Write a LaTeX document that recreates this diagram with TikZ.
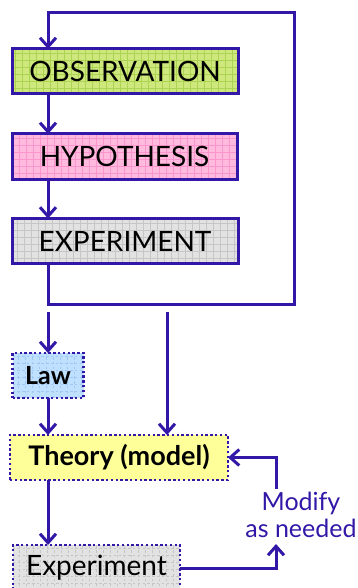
\documentclass[tikz,border=0pt]{standalone}
\usepackage{fontspec}
\setmainfont{Lato}
\usetikzlibrary{arrows.meta}
\definecolor{MethodInk}{RGB}{51,24,168}
\definecolor{ObsFill}{RGB}{206,232,125}
\definecolor{ObsGrid}{RGB}{172,212,82}
\definecolor{HypFill}{RGB}{255,186,222}
\definecolor{HypGrid}{RGB}{250,150,205}
\definecolor{ExpFill}{RGB}{226,226,226}
\definecolor{ExpGrid}{RGB}{198,198,198}
\definecolor{LawFill}{RGB}{192,224,255}
\definecolor{LawGrid}{RGB}{160,200,242}
\definecolor{TheoryFill}{RGB}{255,255,153}
\tikzset{
    method/diagram/.style={
        x=1pt, y=-1pt,
        line join=miter,
        every node/.style={inner sep=0pt, outer sep=0pt}
    },
    method/box/.style={
        draw=MethodInk, line width=3pt, text=black,
        minimum height=45pt,
        font=\fontsize{28}{30}\selectfont
    },
    method/loose/.style={
        method/box, line width=2.6pt, dash pattern=on 2.4pt off 2.4pt
    },
    method/grid/.style={
        path picture={
            \draw[#1, line width=0.5pt]
                (path picture bounding box.south west) grid[step=7pt]
                (path picture bounding box.north east);
        }
    },
    method/link/.style={draw=MethodInk, line width=3pt},
    method/flow/.style={
        method/link,
        -{Straight Barb[length=9pt, width=16pt]}
    },
    method/note/.style={
        text=MethodInk, align=center,
        font=\fontsize{25}{27}\selectfont
    }
}
\begin{document}
\begin{tikzpicture}[method/diagram]
    \useasboundingbox (0,0) rectangle (358,588);
    % the cycle
    \node[method/box, fill=ObsFill, method/grid=ObsGrid, minimum width=226pt]
        (obs) at (125,71.5) {OBSERVATION};
    \node[method/box, fill=HypFill, method/grid=HypGrid, minimum width=225pt]
        (hyp) at (124.5,156.5) {HYPOTHESIS};
    \node[method/box, fill=ExpFill, method/grid=ExpGrid, minimum width=226pt]
        (exp) at (125,241) {EXPERIMENT};
    \coordinate (trunk) at (48,0);
    \coordinate (loopSE) at (294,304);
    \coordinate (loopNE) at (294,13);
    \draw[method/flow] (exp.south -| trunk) |- (loopSE) -- (loopNE)
                       -| (obs.north -| trunk);
    \draw[method/flow] (obs.south -| trunk) -- (hyp.north -| trunk);
    \draw[method/flow] (hyp.south -| trunk) -- (exp.north -| trunk);
    % what comes out of it
    \node[method/loose, fill=LawFill, method/grid=LawGrid, minimum width=71pt,
          font=\fontsize{25}{28}\selectfont\bfseries]
        (law) at (48,375.5) {Law};
    \node[method/loose, fill=TheoryFill, minimum width=218pt,
          font=\fontsize{27}{30}\selectfont\bfseries]
        (theory) at (119,457.5) {Theory (model)};
    \node[method/loose, fill=ExpFill, method/grid=ExpGrid, minimum width=167pt,
          minimum height=46pt]
        (expt) at (96.5,568) {Experiment};
    \node[method/note] (mod) at (301,515) {Modify\\as needed};
    \coordinate (lawIn) at (48,312);
    \coordinate (theoryIn) at (167,312);
    \coordinate (modIn) at (276,544);
    \coordinate (modOut) at (276,489);
    \draw[method/flow] (lawIn) -- (law.north);
    \draw[method/flow] (theoryIn) -- (theory.north -| theoryIn);
    \draw[method/flow] (law.south) -- (theory.north -| law.south);
    \draw[method/flow] (theory.south -| trunk) -- (expt.north -| trunk);
    \draw[method/flow] (expt.east) -| (modIn);
    \draw[method/flow] (modOut) |- (theory.east);
\end{tikzpicture}
\end{document}
